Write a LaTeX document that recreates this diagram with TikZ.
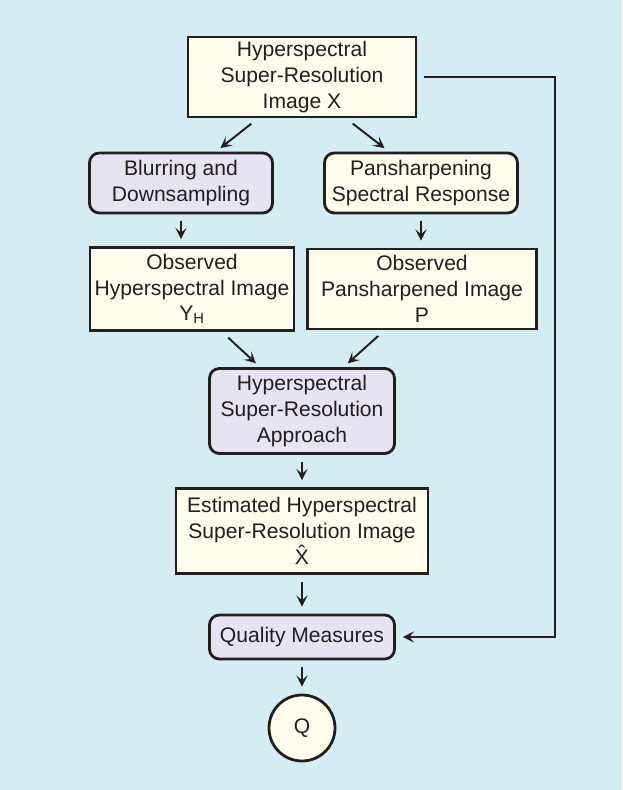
\documentclass[tikz,border=0pt]{standalone}
\usepackage{fontspec}
\setmainfont{Liberation Sans}
\usetikzlibrary{arrows.meta}
\definecolor{bgblue}{HTML}{D4ECF4}
\definecolor{cream}{HTML}{FFFDEB}
\definecolor{lav}{HTML}{E6E4F3}
\definecolor{ink}{HTML}{231F20}
\tikzset{
  img/.style={draw=ink, fill=cream, line width=2pt, inner sep=0pt, align=center, font=\fontsize{15}{18.3}\selectfont, text=ink},
  proc/.style={img, fill=lav, rounded corners=7pt},
  conn/.style={-{Stealth[length=8pt, width=8pt, inset=3.5pt]}, draw=ink, line width=1.4pt, shorten <=5pt, shorten >=5pt},
  diag/.style={conn, shorten <=6pt, shorten >=4pt}
}
\begin{document}
\begin{tikzpicture}
  \fill[bgblue] (0,0) rectangle (15.55,19.75);
  \useasboundingbox (0,0) rectangle (15.55,19.75);

  \node[img, minimum width=5.7cm, minimum height=2.0cm] (top) at (7.55,17.825) {Hyperspectral\\Super-Resolution\\Image X};
  \node[proc, minimum width=4.575cm, minimum height=1.5cm] (blur) at (4.525,15.175) {Blurring and\\Downsampling};
  \node[proc, fill=cream, minimum width=4.825cm, minimum height=1.5cm] (pan) at (10.525,15.175) {Pansharpening\\Spectral Response};
  \node[img, minimum width=5.1cm, minimum height=2.075cm] (obsh) at (4.8,12.525) {Observed\\Hyperspectral Image\\Y\textsubscript{H}};
  \node[img, minimum width=5.725cm, minimum height=2.0cm] (obsp) at (10.55,12.525) {Observed\\Pansharpened Image\\P};
  \node[proc, minimum width=4.625cm, minimum height=2.125cm] (appr) at (7.55,9.475) {Hyperspectral\\Super-Resolution\\Approach};
  \node[img, minimum width=6.3cm, minimum height=2.125cm] (est) at (7.55,6.475) {Estimated Hyperspectral\\Super-Resolution Image\\\^{X}};
  \node[proc, minimum width=4.625cm, minimum height=1.1cm] (qual) at (7.55,3.825) {Quality Measures};
  \node[img, circle, minimum size=1.65cm] (q) at (7.55,1.55) {Q};
  \coordinate (rt) at (13.875,17.825);

  \draw[diag] ([xshift=-1.1cm]top.south) -- ([xshift=0.875cm]blur.north);
  \draw[diag] ([xshift=1.1cm]top.south) -- ([xshift=-0.8cm]pan.north);
  \draw[conn] (blur.south) -- (blur.south |- obsh.north);
  \draw[conn] (pan.south) -- (pan.south |- obsp.north);
  \draw[diag] ([xshift=0.75cm]obsh.south) -- ([xshift=-1.05cm]appr.north);
  \draw[diag] ([xshift=-0.94cm]obsp.south) -- ([xshift=1.04cm]appr.north);
  \draw[conn] (appr) -- (est);
  \draw[conn] (est) -- (qual);
  \draw[conn] (qual) -- (q);
  \draw[conn] (top.east) -- (rt) |- (qual.east);
\end{tikzpicture}
\end{document}
